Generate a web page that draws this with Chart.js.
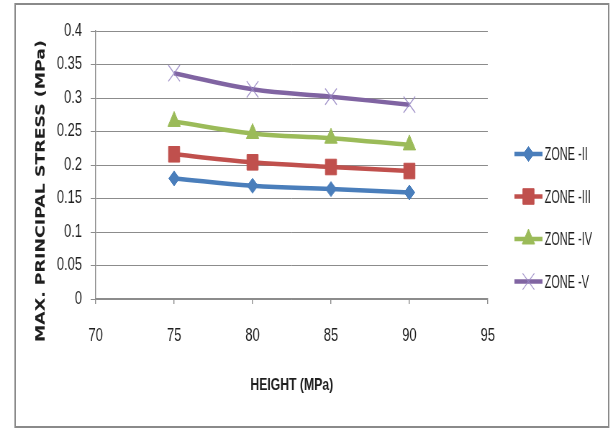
<!DOCTYPE html>
<html>
<head>
<meta charset="utf-8">
<script src="https://cdn.jsdelivr.net/npm/chart.js@4/dist/chart.umd.min.js"></script>
<style>
  html, body { margin: 0; padding: 0; background: #fff; overflow: hidden; }
  #wrap { width: 613px; height: 429px; overflow: hidden; position: relative; }
  /* the chart is laid out on a wider canvas and shown horizontally compressed */
  #c { position: absolute; left: 0; top: 0; transform-origin: 0 0; transform: scale(0.71948, 1); }
</style>
</head>
<body>
<div id="wrap"><canvas id="c" width="852" height="429"></canvas></div>
<script>
// Building height (x) against max. principal stress for each seismic zone
const heights = [75, 80, 85, 90];
const zone2 = [0.180, 0.169, 0.164, 0.159];
const zone3 = [0.216, 0.204, 0.197, 0.191];
const zone4 = [0.265, 0.247, 0.240, 0.230];
const zone5 = [0.337, 0.313, 0.302, 0.290];
const seriesNames = ['ZONE -II', 'ZONE -III', 'ZONE -IV', 'ZONE -V'];
const xTicks = [70, 75, 80, 85, 90, 95];
const yTicks = [0, 0.05, 0.1, 0.15, 0.2, 0.25, 0.3, 0.35, 0.4];
const xTitle = 'HEIGHT (MPa)';
const yTitle = 'MAX. PRINCIPAL STRESS (MPa)';

const SANS = '"Liberation Sans", Arial, sans-serif';
const GRID = '#8c8c8c';
const TEXT = '#1e1e1e';

const styles = [
  { color: '#4a7ebb', point: 'rectRot', radius: 7.5, border: 1 },
  { color: '#c0504d', point: 'rect', radius: 11, border: 1 },
  { color: '#9bbb59', point: 'triangle', radius: 10, border: 1 },
  { color: '#8064a2', point: 'crossRot', radius: 11.5, border: 1.3, pointColor: 'rgba(150,135,195,0.85)' }
];

const values = [zone2, zone3, zone4, zone5];
const datasets = values.map((vals, i) => {
  const s = styles[i];
  return {
    label: seriesNames[i],
    data: heights.map((h, k) => ({ x: h, y: vals[k] })),
    borderColor: s.color,
    backgroundColor: s.color,
    borderWidth: 4.5,
    tension: 0.4,
    pointStyle: s.point,
    pointRadius: s.radius,
    pointBorderWidth: s.border,
    pointBackgroundColor: s.pointColor || s.color,
    pointBorderColor: s.pointColor || s.color
  };
});

// Outer frame, rotated value-axis title and the line/marker legend
const decorations = {
  id: 'decorations',
  afterDraw(chart) {
    const ctx = chart.ctx;
    ctx.save();
    ctx.strokeStyle = '#8a8a8a';
    ctx.lineWidth = 2;
    ctx.strokeRect(21, 4, 825, 423);

    // y-axis title
    ctx.save();
    ctx.translate(58, 191);
    ctx.rotate(-Math.PI / 2);
    ctx.font = 'bold 17px "DejaVu Sans", Verdana, sans-serif';
    const w = ctx.measureText(yTitle).width;
    ctx.scale(302 / w, 1);
    ctx.fillStyle = TEXT;
    ctx.textAlign = 'center';
    ctx.textBaseline = 'middle';
    ctx.fillText(yTitle, 0, 0);
    ctx.restore();

    // legend
    chart.data.datasets.forEach((ds, i) => {
      const y = 154 + i * 42.5;
      ctx.strokeStyle = ds.borderColor;
      ctx.lineWidth = 4.5;
      ctx.beginPath();
      ctx.moveTo(715, y);
      ctx.lineTo(754, y);
      ctx.stroke();
      ctx.fillStyle = ds.pointBackgroundColor;
      ctx.strokeStyle = ds.pointBorderColor;
      ctx.lineWidth = ds.pointBorderWidth;
      Chart.helpers.drawPoint(ctx, {
        pointStyle: ds.pointStyle,
        radius: ds.pointRadius,
        rotation: 0,
        borderWidth: ds.pointBorderWidth
      }, 734.5, y);
      ctx.save();
      ctx.translate(757, y + 1);
      ctx.scale(0.8, 1);
      ctx.fillStyle = TEXT;
      ctx.font = '19px ' + SANS;
      ctx.textAlign = 'left';
      ctx.textBaseline = 'middle';
      ctx.fillText(ds.label, 0, 0);
      ctx.restore();
    });
    ctx.restore();
  }
};

new Chart(document.getElementById('c'), {
  type: 'line',
  data: { datasets },
  options: {
    responsive: false,
    animation: false,
    devicePixelRatio: 1,
    layout: { padding: { top: 31, right: 174, bottom: 0, left: 0 } },
    plugins: { legend: { display: false }, tooltip: { enabled: false } },
    scales: {
      x: {
        type: 'linear',
        min: 70,
        max: 95,
        afterBuildTicks: s => { s.ticks = xTicks.map(v => ({ value: v })); },
        afterFit: s => { s.height = 130; },
        grid: { drawOnChartArea: false, drawTicks: true, tickLength: 5, color: GRID, lineWidth: 1.4 },
        border: { color: GRID, width: 1.4 },
        ticks: { font: { family: SANS, size: 18 }, color: TEXT, padding: 21, maxRotation: 0, callback: v => String(v) },
        title: {
          display: true,
          text: xTitle,
          color: TEXT,
          font: { family: SANS, size: 17, weight: 'bold' },
          padding: { top: 0, bottom: 33 }
        }
      },
      y: {
        type: 'linear',
        min: 0,
        max: 0.4,
        afterBuildTicks: s => { s.ticks = yTicks.map(v => ({ value: v })); },
        afterFit: s => { s.width = 133; },
        grid: { color: GRID, tickLength: 7 },
        border: { color: GRID, width: 1.4 },
        ticks: { font: { family: SANS, size: 18 }, color: TEXT, padding: 12, callback: v => String(v) }
      }
    }
  },
  plugins: [decorations]
});
</script>
</body>
</html>
